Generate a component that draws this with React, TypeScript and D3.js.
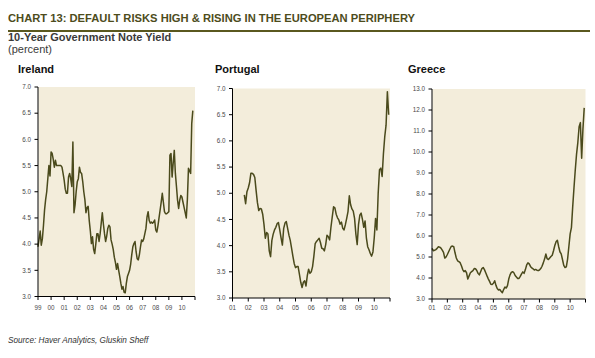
import React from 'react';
import * as d3 from 'd3';

// ---------- DATA ----------
const irelandStart = 1999; // Jan 1999, monthly
const irelandValues = [
  3.95, 4.1, 4.25, 3.98, 4.1, 4.35, 4.65, 4.85, 5.0, 5.25, 5.5, 5.3,
  5.76, 5.73, 5.62, 5.47, 5.6, 5.5, 5.5, 5.5, 5.5, 5.5, 5.47, 5.35,
  5.22, 5.05, 4.97, 4.97, 5.28, 5.35, 5.25, 5.1, 5.95, 4.6, 4.75, 5.0,
  5.19, 5.25, 5.47, 5.37, 5.35, 5.2, 5.0, 4.85, 4.6, 4.7, 4.72, 4.45,
  4.25, 4.01, 4.14, 3.9, 3.82, 4.0, 4.2, 4.2, 4.05, 4.2, 4.4, 4.6,
  4.38, 4.2, 4.05, 4.15, 4.3, 4.36, 4.33, 4.08, 4.0, 3.9, 3.75, 3.65,
  3.52, 3.63, 3.5, 3.38, 3.25, 3.14, 3.19, 3.08, 3.07, 3.25, 3.38, 3.44,
  3.5, 3.62, 3.8, 3.95, 4.01, 4.05, 3.85, 3.72, 3.7, 3.8, 3.95, 4.08,
  4.05, 4.1, 4.2, 4.3, 4.52, 4.62, 4.45, 4.4, 4.42, 4.4, 4.42, 4.46,
  4.27, 4.23, 4.35, 4.5, 4.65, 4.8, 4.97, 4.8, 4.62, 4.58, 4.58, 4.6,
  4.62, 5.7, 5.73, 5.28, 5.55, 5.79, 5.35, 5.1, 4.84, 4.68, 4.84, 4.93,
  4.9, 4.8, 4.7, 4.6, 4.5, 4.85, 5.45, 5.4, 5.35, 6.3, 6.55,
];

const portugalStart = 2001 + 9 / 12; // Oct 2001, monthly
const portugalValues = [
  4.97, 4.8, 5.03,
  5.1, 5.2, 5.38, 5.38, 5.36, 5.3, 5.05, 4.82, 4.67, 4.71, 4.7, 4.6,
  4.4, 4.14, 4.25, 4.22, 3.9, 3.79, 4.1, 4.22, 4.3, 4.35, 4.42, 4.44,
  4.3, 4.15, 4.01, 4.33, 4.43, 4.46, 4.33, 4.2, 4.1, 3.95, 3.8, 3.66,
  3.58, 3.6, 3.6, 3.45, 3.3, 3.2, 3.3, 3.33, 3.23, 3.43, 3.55, 3.47,
  3.5, 3.6, 3.8, 4.04, 4.08, 4.11, 4.14, 4.06, 3.95, 3.94, 3.9, 4.02,
  4.2, 4.17, 4.11, 4.35, 4.55, 4.74, 4.72, 4.6, 4.53, 4.49, 4.41, 4.45,
  4.33, 4.3, 4.4, 4.52, 4.65, 4.95, 4.78, 4.7, 4.66, 4.52, 4.22, 4.02,
  4.4, 4.58, 4.62, 4.5, 4.35, 4.47, 4.15, 3.98, 3.92, 3.85, 3.8, 3.88,
  4.15, 4.52, 4.3, 5.0, 5.45, 5.48, 5.32, 5.76, 6.08, 6.3, 6.94, 6.5,
];

const greeceStart = 2001; // Jan 2001, monthly
const greeceValues = [
  5.41, 5.3, 5.32, 5.35, 5.41, 5.49, 5.47, 5.42, 5.33, 5.22, 4.95, 5.0,
  5.12, 5.25, 5.38, 5.5, 5.52, 5.49, 5.2, 4.95, 4.82, 4.78, 4.73, 4.58,
  4.4, 4.3, 4.35, 4.25, 3.95, 4.1, 4.25, 4.3, 4.35, 4.45, 4.44, 4.36,
  4.22, 4.15, 4.3, 4.45, 4.5, 4.4, 4.25, 4.1, 3.96, 3.84, 3.7, 3.69,
  3.75, 3.87, 3.65, 3.5, 3.43, 3.45, 3.37, 3.3, 3.45, 3.57, 3.52, 3.64,
  3.95, 4.15, 4.27, 4.3, 4.25, 4.12, 4.05, 3.98, 3.98, 4.08, 4.2, 4.29,
  4.22, 4.4, 4.62, 4.72, 4.67, 4.55, 4.48, 4.44, 4.38, 4.41, 4.37, 4.35,
  4.38, 4.45, 4.56, 4.72, 4.9, 5.14, 4.92, 4.88, 4.95, 5.02, 5.08, 5.3,
  5.55, 5.73, 5.8, 5.5, 5.25, 5.15, 4.88, 4.6, 4.5, 4.53, 4.9, 5.5,
  6.1, 6.4, 7.4, 8.3, 9.14, 9.9, 10.45, 11.2, 11.4, 9.7, 11.1, 12.1,
];

const irelandYearLabels = ['99', '00', '01', '02', '03', '04', '05', '06', '07', '08', '09', '10'];
const euroYearLabels = ['01', '02', '03', '04', '05', '06', '07', '08', '09', '10'];
const lowYTicks = [3.0, 3.5, 4.0, 4.5, 5.0, 5.5, 6.0, 6.5, 7.0];
const greeceYTicks = [3, 4, 5, 6, 7, 8, 9, 10, 11, 12, 13];

// ---------- STYLE ----------
const FONT = '"Liberation Sans", Arial, sans-serif';
const BG = '#f3eddb';
const LINE = '#4a4a1c';
const OLIVE = '#4d4c1c';
const TICKTXT = '#4a4a4a';

type PanelProps = {
  title: string;
  titleX: number;
  startYear: number;
  values: number[];
  firstYear: number;
  yearLabels: string[];
  yTicks: number[];
  yDomain: [number, number];
  x0: number;
  x1: number;
  yTop: number;
  yBottom: number;
};

function Panel(p: PanelProps) {
  const lastYear = p.firstYear + p.yearLabels.length;
  const x = d3.scaleLinear().domain([p.firstYear, lastYear]).range([p.x0, p.x1]);
  const y = d3.scaleLinear().domain(p.yDomain).range([p.yBottom, p.yTop]);
  const pts = p.values.map((v, i) => ({ t: p.startYear + i / 12, v }));
  const line = d3
    .line<{ t: number; v: number }>()
    .x((d) => x(d.t))
    .y((d) => y(d.v))
    .curve(d3.curveLinear);
  const yearTicks = d3.range(p.firstYear, lastYear + 1);
  return (
    <g>
      <text x={p.titleX} y={73} fontFamily={FONT} fontWeight="bold" fontSize={11} fill="#111">
        {p.title}
      </text>
      <rect x={p.x0 + 0.5} y={p.yTop} width={p.x1 - p.x0 - 0.5} height={p.yBottom - p.yTop} fill={BG} />
      <path d={line(pts) || ''} fill="none" stroke={LINE} strokeWidth={1.5} strokeLinejoin="round" />
      {/* y axis */}
      <line x1={p.x0} x2={p.x0} y1={p.yTop} y2={p.yBottom} stroke="#000" strokeWidth={1} />
      {p.yTicks.map((t) => (
        <g key={'y' + t}>
          <line x1={p.x0 - 3.5} x2={p.x0} y1={y(t)} y2={y(t)} stroke="#000" strokeWidth={1} />
          <text
            x={p.x0 - 7}
            y={y(t) + 2.2}
            textAnchor="end"
            fontFamily={FONT}
            fontSize={6.3}
            fill={TICKTXT}
          >
            {t.toFixed(1)}
          </text>
        </g>
      ))}
      {/* x axis */}
      <line x1={p.x0} x2={p.x1} y1={p.yBottom} y2={p.yBottom} stroke="#000" strokeWidth={1} />
      {yearTicks.map((yr) => (
        <line key={'xt' + yr} x1={x(yr)} x2={x(yr)} y1={p.yBottom} y2={p.yBottom + 3.5} stroke="#000" strokeWidth={1} />
      ))}
      {p.yearLabels.map((lab, i) => (
        <text
          key={'xl' + lab}
          x={x(p.firstYear + i)}
          y={310}
          textAnchor="middle"
          fontFamily={FONT}
          fontSize={6.3}
          fill={TICKTXT}
        >
          {lab}
        </text>
      ))}
    </g>
  );
}

export default function App() {
  return (
    <svg
      width={595}
      height={358}
      viewBox="0 0 595 358"
      style={{ position: 'absolute', left: 0, top: 0, background: '#fff' }}
    >
      <rect x={0} y={0} width={595} height={358} fill="#fff" />
      <text
        x={8}
        y={22}
        fontFamily={FONT}
        fontWeight="bold"
        fontSize={11.5}
        fill={OLIVE}
        textLength={407}
        lengthAdjust="spacingAndGlyphs"
      >
        CHART 13: DEFAULT RISKS HIGH &amp; RISING IN THE EUROPEAN PERIPHERY
      </text>
      <rect x={8} y={30} width={582} height={2} fill="#5a581f" />
      <text x={8} y={41} fontFamily={FONT} fontWeight="bold" fontSize={11} fill="#3a3a3a">
        10-Year Government Note Yield
      </text>
      <text x={8} y={53} fontFamily={FONT} fontSize={11} fill="#3a3a3a">
        (percent)
      </text>

      <Panel
        title="Ireland"
        titleX={18}
        startYear={irelandStart}
        values={irelandValues}
        firstYear={1999}
        yearLabels={irelandYearLabels}
        yTicks={lowYTicks}
        yDomain={[3, 7]}
        x0={38}
        x1={195}
        yTop={87}
        yBottom={296.5}
      />
      <Panel
        title="Portugal"
        titleX={215}
        startYear={portugalStart}
        values={portugalValues}
        firstYear={2001}
        yearLabels={euroYearLabels}
        yTicks={lowYTicks}
        yDomain={[3, 7]}
        x0={232.5}
        x1={390}
        yTop={88.5}
        yBottom={298}
      />
      <Panel
        title="Greece"
        titleX={408}
        startYear={greeceStart}
        values={greeceValues}
        firstYear={2001}
        yearLabels={euroYearLabels}
        yTicks={greeceYTicks}
        yDomain={[3, 13]}
        x0={432}
        x1={585.5}
        yTop={89}
        yBottom={299}
      />

      <text x={8} y={343} fontFamily={FONT} fontStyle="italic" fontSize={8.2} fill="#333">
        Source: Haver Analytics, Gluskin Sheff
      </text>
    </svg>
  );
}
